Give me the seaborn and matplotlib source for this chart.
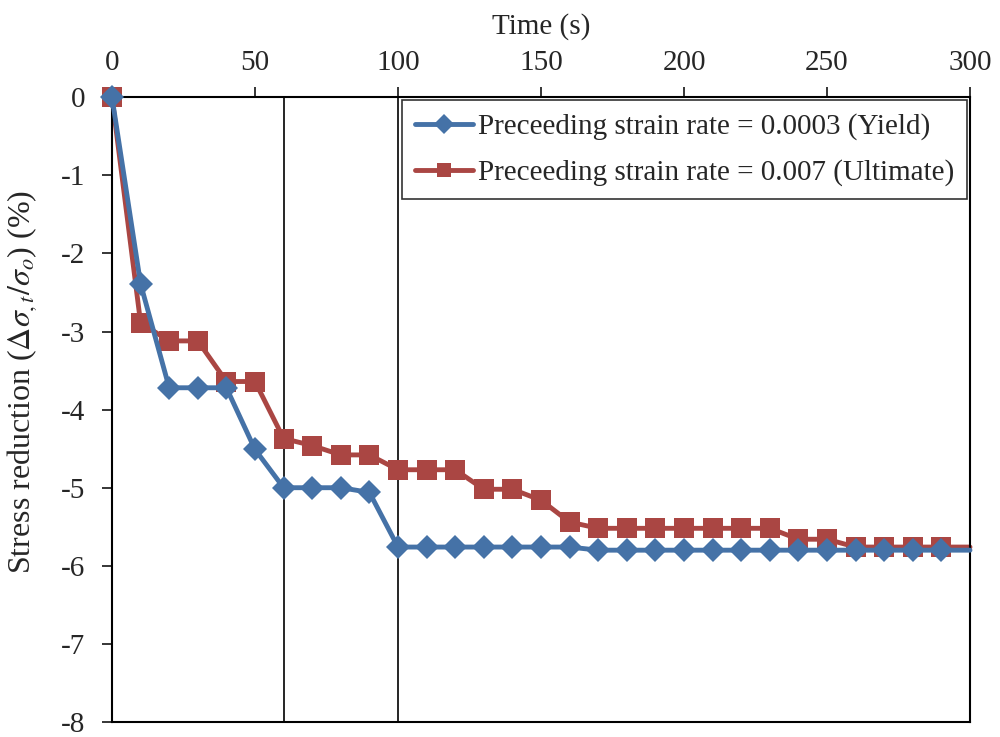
import numpy as np
import pandas as pd
import seaborn as sns
import matplotlib.pyplot as plt

# time (s)
time = [0, 10, 20, 30, 40, 50, 60, 70, 80, 90, 100, 110, 120, 130, 140, 150,
        160, 170, 180, 190, 200, 210, 220, 230, 240, 250, 260, 270, 280, 290, 300]

yield_vals = [0, -2.39, -3.72, -3.72, -3.72, -4.51, -5.0, -5.0, -5.0, -5.06,
              -5.76, -5.76, -5.76, -5.76, -5.76, -5.76, -5.76, -5.80, -5.80, -5.80,
              -5.80, -5.80, -5.80, -5.80, -5.80, -5.80, -5.80, -5.80, -5.80, -5.80, -5.80]

ult_vals = [0, -2.89, -3.12, -3.12, -3.64, -3.64, -4.37, -4.46, -4.58, -4.58,
            -4.77, -4.77, -4.77, -5.02, -5.02, -5.16, -5.44, -5.52, -5.52, -5.52,
            -5.52, -5.52, -5.52, -5.52, -5.66, -5.66, -5.76, -5.76, -5.76, -5.76, -5.76]

labels = ["Preceeding strain rate = 0.0003 (Yield)",
          "Preceeding strain rate = 0.007 (Ultimate)"]
vlines = [60, 100]

sns.set_style("white")
plt.rcParams['font.family'] = ['Liberation Serif', 'DejaVu Serif']
plt.rcParams['mathtext.fontset'] = 'stix'
plt.rcParams['axes.unicode_minus'] = False

fig = plt.figure(figsize=(10, 7.37), dpi=100)
ax = fig.add_axes([0.112, 0.0204, 0.858, 0.8476])

for xv in vlines:
    ax.axvline(xv, color='black', lw=1.2, zorder=1)

marks = list(range(len(time) - 1))
sns.lineplot(x=time, y=yield_vals, ax=ax, color='#4572A7', lw=3.5,
             marker='D', markersize=12, markeredgewidth=0, markevery=marks,
             label=labels[0], zorder=3, clip_on=False)
sns.lineplot(x=time, y=ult_vals, ax=ax, color='#AA4643', lw=3.5,
             marker='s', markersize=14, markeredgewidth=0, markevery=marks,
             label=labels[1], zorder=2, clip_on=False)

ax.set_xlim(0, 300)
ax.set_ylim(-8, 0)
ax.set_xticks(np.arange(0, 301, 50))
ax.set_yticks(np.arange(-8, 1, 1))
ax.xaxis.tick_top()
ax.xaxis.set_label_position('top')
ax.tick_params(axis='x', which='both', direction='out', length=7, width=1.3,
               top=True, bottom=False, labelsize=21, pad=8)
ax.tick_params(axis='y', direction='out', length=7, width=1.3, left=True,
               labelsize=21, pad=12)
ax.set_xlabel('Time (s)', fontsize=21, labelpad=12)
ax.set_ylabel(r'Stress reduction ($\mathit{\Delta\sigma_{,t}/\sigma_o}$) (%)',
              fontsize=23)
ax.yaxis.set_label_coords(-0.085, 0.545)

for sp in ax.spines.values():
    sp.set_color('black')
    sp.set_linewidth(1.5)

leg = ax.legend(loc='upper right', fontsize=21, frameon=True, fancybox=False,
                borderaxespad=0.1, handlelength=2.0, handletextpad=0.15,
                labelspacing=0.65, borderpad=0.45)
leg.get_frame().set_edgecolor('black')
leg.get_frame().set_linewidth(1.2)
for h in leg.legend_handles:
    h.set_markersize(10)
    h.set_linewidth(3.5)

fig.savefig('out.png', dpi=100)
